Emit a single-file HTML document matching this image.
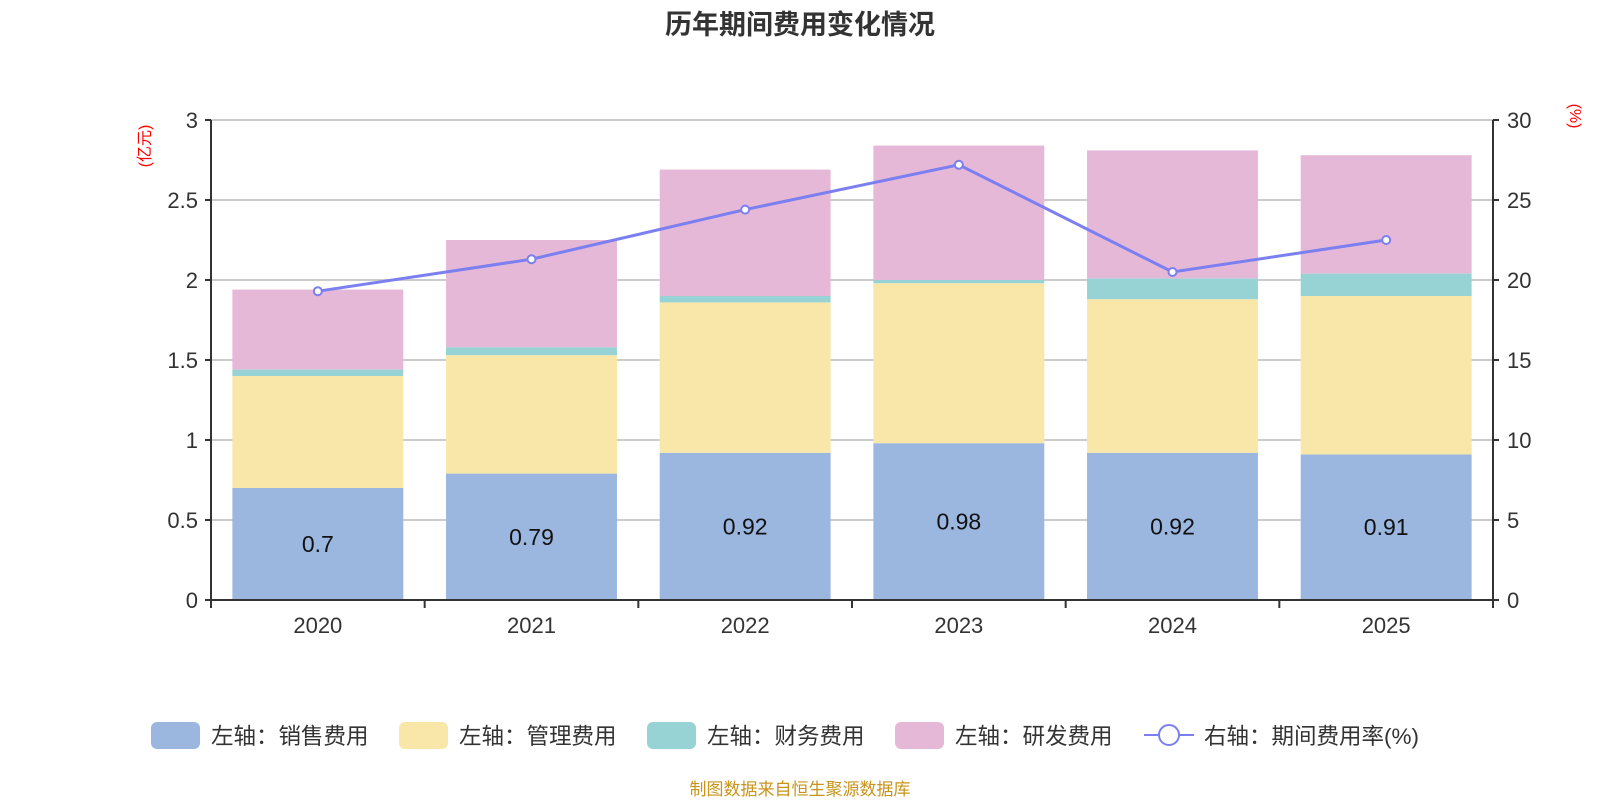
<!DOCTYPE html>
<html><head><meta charset="utf-8"><style>
html,body{margin:0;padding:0;background:#fff;}
svg{display:block;font-family:"Liberation Sans","Noto Sans CJK SC",sans-serif;}
</style></head><body>
<svg id="chart" width="1600" height="800" viewBox="0 0 1600 800" xmlns="http://www.w3.org/2000/svg">
<text x="800" y="34" text-anchor="middle" font-size="27" font-weight="bold" fill="#333">历年期间费用变化情况</text>
<text transform="translate(150,146) rotate(-90)" text-anchor="middle" font-size="16" fill="#f00">(亿元)</text>
<text transform="translate(1570,116) rotate(90)" text-anchor="middle" font-size="16" fill="#f00">(%)</text>
<g id="grid"></g><g id="bars"></g><g id="axes"></g><g id="line"></g><g id="legend"></g>
<text x="800" y="795" text-anchor="middle" font-size="17" fill="#c8941a">制图数据来自恒生聚源数据库</text>
</svg>
<script>
const categories=["2020","2021","2022","2023","2024","2025"];
const sales=[0.70,0.79,0.92,0.98,0.92,0.91];
const admin=[0.70,0.74,0.94,1.00,0.96,0.99];
const finance=[0.04,0.05,0.04,0.02,0.13,0.14];
const rnd=[0.50,0.67,0.79,0.84,0.80,0.74];
const rate=[19.3,21.3,24.4,27.2,20.5,22.5];
const leftTicks=[0,0.5,1,1.5,2,2.5,3];
const rightTicks=[0,5,10,15,20,25,30];
const names=["左轴：销售费用","左轴：管理费用","左轴：财务费用","左轴：研发费用","右轴：期间费用率(%)"];
const colors=["#9bb7e0","#f8e7a8","#97d3d4","#e6b8d8","#7b7ff0"];
const NS="http://www.w3.org/2000/svg";
const X0=211,X1=1493,Y0=600,Y1=120;
const bw=(X1-X0)/categories.length;
const yL=v=>Y0-(v/3)*(Y0-Y1);
const yR=v=>Y0-(v/30)*(Y0-Y1);
const xc=i=>X0+bw*(i+0.5);
function mk(t,a,p){const e=document.createElementNS(NS,t);for(const k in a)e.setAttribute(k,a[k]);(p||document.getElementById('chart')).appendChild(e);return e;}
const grid=document.getElementById('grid'),axes=document.getElementById('axes'),bars=document.getElementById('bars'),line=document.getElementById('line'),leg=document.getElementById('legend');
leftTicks.forEach((t,i)=>{const y=yL(t);
 if(i>0){const g=mk('line',{x1:X0,x2:X1,y1:y,y2:y,stroke:'#ccc','stroke-width':2},grid);}
 mk('line',{x1:X0-6,x2:X0,y1:y,y2:y,stroke:'#333','stroke-width':2},axes);
 const l=mk('text',{x:X0-13,y:y+8,'text-anchor':'end','font-size':22,fill:'#333'},axes);l.textContent=t;
 
 });
rightTicks.forEach(t=>{const y=yR(t);
 mk('line',{x1:X1,x2:X1+6,y1:y,y2:y,stroke:'#333','stroke-width':2},axes);
 const l=mk('text',{x:X1+14,y:y+8,'font-size':22,fill:'#333'},axes);l.textContent=t;
 
 });
mk('line',{x1:X0,x2:X0,y1:Y1,y2:Y0+1,stroke:'#333','stroke-width':2},axes);
mk('line',{x1:X1,x2:X1,y1:Y1,y2:Y0+1,stroke:'#333','stroke-width':2},axes);
mk('line',{x1:X0,x2:X1,y1:Y0,y2:Y0,stroke:'#333','stroke-width':2},axes);
for(let i=0;i<=categories.length;i++){mk('line',{x1:X0+bw*i,x2:X0+bw*i,y1:Y0,y2:Y0+8,stroke:'#333','stroke-width':2},axes);}
const series=[sales,admin,finance,rnd];
categories.forEach((c,i)=>{let base=0;const w=bw*0.8,x=xc(i)-w/2;
 series.forEach((s,k)=>{const r=mk('rect',{x:x,y:yL(base+s[i]),width:w,height:yL(base)-yL(base+s[i]),fill:colors[k]},bars);
  
  base+=s[i];});
 const t=mk('text',{x:xc(i),y:(yL(0)+yL(sales[i]))/2+8,'text-anchor':'middle','font-size':23,fill:'#111'},bars);t.textContent=sales[i];
 
 
 const xl=mk('text',{x:xc(i),y:Y0+33,'text-anchor':'middle','font-size':22,fill:'#333'},axes);xl.textContent=c;
 
 });
const pl=mk('polyline',{points:rate.map((v,i)=>xc(i)+','+yR(v)).join(' '),fill:'none',stroke:colors[4],'stroke-width':3},line);


rate.forEach((v,i)=>{const p=mk('circle',{cx:xc(i),cy:yR(v),r:4,fill:'#fff',stroke:colors[4],'stroke-width':2},line);
 
 });
const lx=[151,399,647,895,1144];
names.forEach((n,k)=>{const g=mk('g',{},leg);
 
 
 if(k<4){mk('rect',{x:lx[k],y:722,width:49,height:27,rx:6,fill:colors[k]},g);}
 else{mk('line',{x1:lx[k],x2:lx[k]+50,y1:735,y2:735,stroke:colors[4],'stroke-width':2},g);mk('circle',{cx:lx[k]+25,cy:735,r:10,fill:'#fff',stroke:colors[4],'stroke-width':2},g);}
 const t=mk('text',{x:lx[k]+60,y:744,'font-size':22.5,fill:'#333'},g);t.textContent=n;});
</script>
</body></html>
